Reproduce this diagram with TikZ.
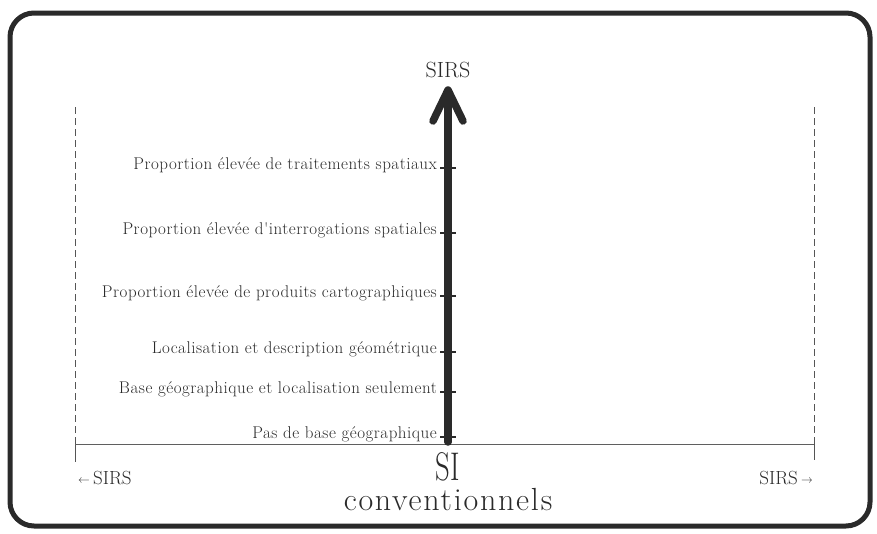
\documentclass[tikz,border=0pt]{standalone}
\usepackage{fontspec}
\usetikzlibrary{calc}
\definecolor{ink}{HTML}{2A2A2A}
\newfontfamily\spacedlm[LetterSpace=3]{Latin Modern Roman}
\newfontfamily\widelm[LetterSpace=5.5]{Latin Modern Roman}
\tikzset{
  lbl/.style={anchor=mid east, inner sep=0pt, text=ink, font=\spacedlm\fontsize{17}{19}\selectfont},
  tick/.style={line width=2.2pt, draw=ink},
  guide/.style={line width=0.8pt, draw=ink!80, dash pattern=on 7pt off 4pt},
}
\begin{document}
\begin{tikzpicture}[x=1pt,y=-1pt]
\useasboundingbox (0,0) rectangle (877,533);
% frame
\draw[line width=5pt, draw=ink, rounded corners=24pt] (10,13) rectangle (870,526);
% side guides
\coordinate (lt) at (75,107);
\coordinate (lb) at (75,462);
\coordinate (rt) at (814,107);
\coordinate (rb) at (814,460);
\draw[guide] (lt) -- (75,440);
\draw[line width=0.8pt, draw=ink!80] (75,440) -- (lb);
\draw[guide] (rt) -- (814,440);
\draw[line width=0.8pt, draw=ink!80] (814,440) -- (rb);
% baseline
\coordinate (bl) at (75,444);
\coordinate (br) at (814,444);
\draw[line width=1pt, draw=ink!75] (bl) -- (br);
% main axis
\coordinate (ax0) at (448,442);
\coordinate (tip) at (448,90);
\draw[line width=7.5pt, draw=ink, line cap=round] (ax0) -- ($(tip)+(0,4)$);
\draw[line width=7.5pt, draw=ink, line cap=round, line join=round] (433,121) -- (tip) -- (463,121);
\node[text=ink, font=\fontsize{22}{24}\selectfont] (top) at (448,70) {SIRS};
% ticks and labels
\foreach \y/\n/\t in {168/a/{Proportion élevée de traitements spatiaux},
                      233/b/{Proportion élevée d'interrogations spatiales},
                      296/c/{Proportion élevée de produits cartographiques},
                      352/d/{Localisation et description géométrique},
                      392/e/{Base géographique et localisation seulement},
                      437/f/{Pas de base géographique}} {
  \coordinate (t\n) at (448,\y);
  \draw[tick] ($(t\n)+(-8,0)$) -- ($(t\n)+(8,0)$);
  \node[lbl] (l\n) at ($(t\n)+(-11,-1)$) {\t};
}
% bottom labels
\node[text=ink, font=\fontsize{40}{42}\selectfont, xscale=0.72, inner sep=0pt] (si) at (448,467) {SI};
\node[text=ink, font=\widelm\fontsize{32}{34}\selectfont, inner sep=0pt] (conv) at (448,500) {conventionnels};
\node[text=ink, font=\fontsize{19}{21}\selectfont, anchor=west, inner sep=0pt] (ls) at (78,478) {{\fontsize{12}{13}\selectfont\raisebox{1pt}{←}}\,SIRS};
\node[text=ink, font=\fontsize{19}{21}\selectfont, anchor=east, inner sep=0pt] (rs) at (813,478) {SIRS\,{\fontsize{12}{13}\selectfont\raisebox{1pt}{→}}};
\end{tikzpicture}
\end{document}
